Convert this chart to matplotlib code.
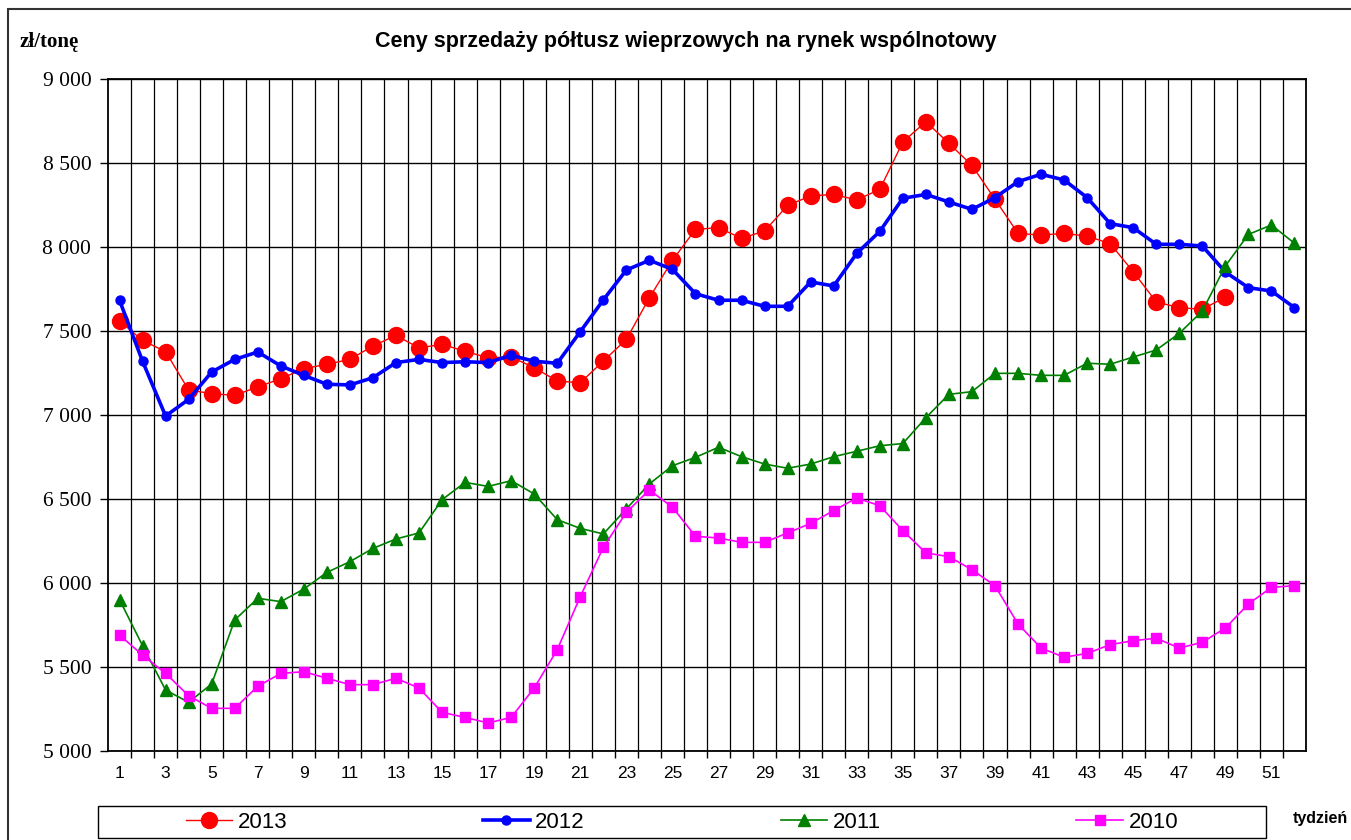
import numpy as np
import matplotlib
matplotlib.use('Agg')
import matplotlib.pyplot as plt
from matplotlib.ticker import FuncFormatter, MultipleLocator
from matplotlib.patches import Rectangle

# %% data (zl/tone by week)
weeks_2013 = list(range(1, 50))
weeks_all = list(range(1, 53))

prices_2013 = [7560, 7444, 7377, 7149, 7127, 7117, 7167, 7216, 7276, 7302,
               7331, 7411, 7474, 7399, 7421, 7379, 7341, 7345, 7282, 7202,
               7192, 7321, 7450, 7698, 7921, 8105, 8115, 8052, 8095, 8248,
               8304, 8313, 8280, 8343, 8625, 8746, 8617, 8486, 8284, 8081,
               8071, 8081, 8065, 8020, 7853, 7673, 7639, 7629, 7702]

prices_2012 = [7683, 7320, 6994, 7093, 7256, 7331, 7375, 7292, 7236, 7183,
               7179, 7222, 7312, 7331, 7312, 7317, 7312, 7355, 7320, 7308,
               7496, 7685, 7863, 7921, 7867, 7722, 7683, 7683, 7647, 7647,
               7792, 7768, 7962, 8093, 8290, 8313, 8268, 8224, 8294, 8389,
               8433, 8399, 8294, 8139, 8115, 8016, 8016, 8006, 7851, 7758,
               7738, 7639]

prices_2011 = [5901, 5627, 5363, 5290, 5399, 5780, 5909, 5889, 5964, 6063,
               6127, 6206, 6262, 6298, 6496, 6599, 6575, 6609, 6530, 6377,
               6325, 6292, 6441, 6590, 6698, 6748, 6808, 6752, 6708, 6683,
               6708, 6752, 6784, 6817, 6830, 6984, 7123, 7139, 7248, 7248,
               7236, 7236, 7308, 7302, 7345, 7387, 7486, 7619, 7887, 8075,
               8131, 8022]

prices_2010 = [5690, 5571, 5462, 5329, 5254, 5254, 5385, 5462, 5472, 5433,
               5395, 5395, 5433, 5375, 5230, 5200, 5167, 5200, 5375, 5603,
               5919, 6212, 6421, 6554, 6451, 6278, 6268, 6242, 6242, 6298,
               6355, 6431, 6506, 6460, 6312, 6179, 6157, 6079, 5984, 5756,
               5613, 5558, 5581, 5633, 5657, 5671, 5613, 5647, 5732, 5875,
               5974, 5984]

x_tick_labels = [str(w) for w in range(1, 53, 2)]

# %% figure
W, H = 1351, 840
fig = plt.figure(figsize=(W / 100, H / 100), dpi=100)
ax = fig.add_axes([108 / W, 1 - 751 / H, (1306 - 108) / W, (751 - 79) / H])

ax.plot(weeks_2013, prices_2013, color='#ff0000', lw=1.0, marker='o', ms=11.5,
        mec='#ff0000', mfc='#ff0000', label='2013', zorder=3)
ax.plot(weeks_all, prices_2012, color='#0000ff', lw=2.6, marker='o', ms=6.5,
        mec='#0000ff', mfc='#0000ff', label='2012', zorder=4)
ax.plot(weeks_all, prices_2011, color='#008000', lw=1.2, marker='^', ms=8,
        mec='#008000', mfc='#008000', label='2011', zorder=5)
ax.plot(weeks_all, prices_2010, color='#ff00ff', lw=1.2, marker='s', ms=6.5,
        mec='#ff00ff', mfc='#ff00ff', label='2010', zorder=6)

ax.set_xlim(0.5, 52.5)
ax.set_ylim(5000, 9000)

# y axis
ax.yaxis.set_major_locator(MultipleLocator(500))
ax.yaxis.set_major_formatter(FuncFormatter(lambda v, p: f'{int(v):,}'.replace(',', ' ')))
ax.tick_params(axis='y', direction='out', length=6, width=1, pad=6, labelsize=15.5)
for lab in ax.get_yticklabels():
    lab.set_fontfamily('Liberation Serif')
ax.grid(axis='y', color='black', lw=1.0, zorder=1)

# x axis: labels on odd weeks, ticks and grid at week boundaries
ax.set_xticks(list(range(1, 53, 2)))
ax.set_xticklabels(x_tick_labels, fontfamily='Liberation Sans', fontsize=12.5)
ax.tick_params(axis='x', which='major', length=0, pad=11)
ax.set_xticks(np.arange(1.5, 52.5, 1), minor=True)
ax.tick_params(axis='x', which='minor', direction='out', length=5, width=1)
ax.grid(axis='x', which='minor', color='black', lw=0.9, zorder=1)

for s in ax.spines.values():
    s.set_color('black')
    s.set_linewidth(1.3)

# texts
fig.text(686 / W, 1 - 41 / H, 'Ceny sprzedaży półtusz wieprzowych na rynek wspólnotowy',
         ha='center', va='center', fontsize=15.5, fontweight='bold',
         fontfamily='Liberation Sans')
fig.text(20 / W, 1 - 42 / H, 'zł/tonę', ha='left', va='center', fontsize=15,
         fontweight='bold', fontfamily='Liberation Serif')
fig.text(1320 / W, 1 - 818 / H, 'tydzień', ha='center', va='center', fontsize=11.5,
         fontweight='bold', fontfamily='Liberation Sans')

# legend box at the bottom
fig.patches.append(Rectangle((98 / W, 1 - 838 / H), (1266 - 98) / W, 32 / H,
                             transform=fig.transFigure, fill=False,
                             edgecolor='black', lw=1.0))
leg = fig.legend(loc='center', bbox_to_anchor=(682 / W, 1 - 822 / H), ncol=4,
                 frameon=False, prop={'family': 'Liberation Sans', 'size': 16},
                 handlelength=2.1, handletextpad=0.25, columnspacing=8.8)

# outer frame of the chart
fig.patches.append(Rectangle((8 / W, -0.1), 1.2, 1.1 - 9 / H,
                             transform=fig.transFigure, fill=False,
                             edgecolor='#333333', lw=1.5))

fig.savefig('out.png', dpi=100)
